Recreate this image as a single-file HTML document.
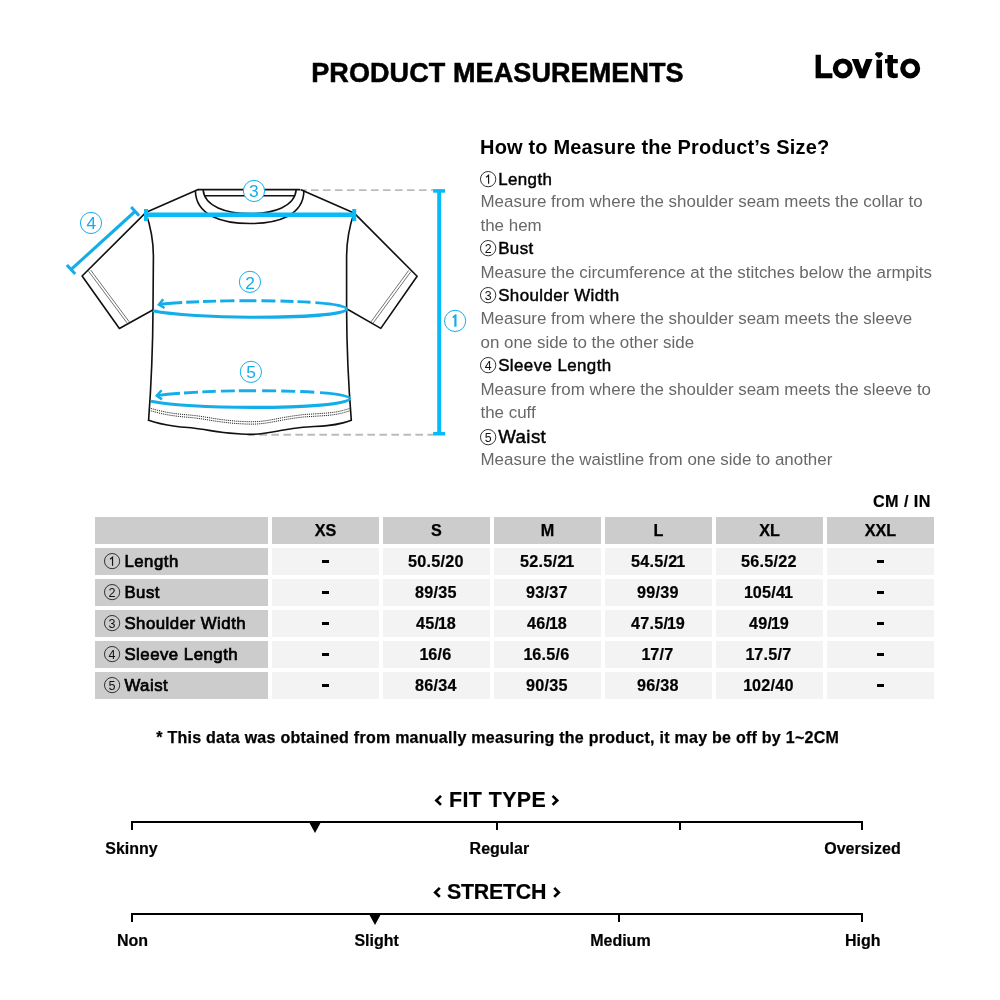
<!DOCTYPE html>
<html><head><meta charset="utf-8"><title>Product Measurements</title>
<style>
html,body{margin:0;padding:0;background:#fff;}
body{width:1000px;height:1000px;position:relative;overflow:hidden;font-family:"Liberation Sans",sans-serif;color:#000;}
.t{position:absolute;line-height:1;white-space:nowrap;}
.b{font-weight:bold;}
.g{color:#686868;}
.sb{-webkit-text-stroke:0.45px #000;}
.sb2{-webkit-text-stroke:0.7px #000;}
.cell{position:absolute;height:27px;}
.n1{margin:0 -0.5px 0 -1.2px;}
.h{background:#cccccc;}
.d{background:#f3f3f3;}
svg{position:absolute;left:0;top:0;}
#page{position:absolute;left:0;top:0;width:1000px;height:1000px;will-change:transform;}
</style></head><body><div id="page">

<div class="t b" style="top:60.02px;font-size:27px;left:311.20px;letter-spacing:0.1px;-webkit-text-stroke:0.55px #000;">PRODUCT MEASUREMENTS</div>
<svg width="1000" height="1000" viewBox="0 0 1000 1000">
<!-- logo -->
<g id="logo" fill="#000" stroke="none">
  <path d="M815.6 54.8 H820.9 V73.2 H832.4 V78.2 H815.6 Z"/>
  <path d="M851.8 59 H858.4 L862.2 69.6 L866 59 H872.6 L865 78.2 H859.4 Z"/>
  <path d="M876.4 59.8 H882 V78.2 H876.4 Z"/>
  <path d="M876.3 52.3 H881.7 L883.2 54.2 L879 58.4 L874.8 54.2 Z"/>
  <path d="M887.5 55 H893 V59 H897.8 V63.2 H893 V71 Q893 73.6 895.6 73.6 Q896.8 73.6 897.8 73.2 V77.6 Q896.2 78.3 894 78.3 Q887.5 78.3 887.5 71.8 V63.2 H885 V59 H887.5 Z"/>
  <circle cx="842.8" cy="68.4" r="7.4" fill="none" stroke="#000" stroke-width="5.2"/>
  <circle cx="910.2" cy="68.4" r="7.4" fill="none" stroke="#000" stroke-width="5.2"/>
</g>
<!-- gray dashed guide lines -->
<g stroke="#bcbcbc" stroke-width="1.9" stroke-dasharray="7.6 4.4" fill="none">
  <path d="M299 190.1 H433"/>
  <path d="M247.4 434.7 H433"/>
</g>
<!-- t-shirt -->
<g fill="none" stroke="#111" stroke-width="1.62" stroke-linejoin="round" stroke-linecap="round">
  <!-- shoulders -->
  <path d="M198.2 189.6 L145.7 212.6"/>
  <path d="M301.5 189.9 L354 212.9"/>
  <!-- collar top lines -->
  <path d="M198.2 189.6 H299.5"/>
  <path d="M204.9 195.7 H294.1"/>
  <!-- collar outer/inner curves -->
  <path d="M195.4 191 C 196 215.5, 222 223.5, 250 223.5 C 278 223.5, 303.4 215.5, 303.9 191"/>
  <path d="M203.1 189.8 C 204.5 206.5, 226 213.5, 250 213.5 C 274 213.5, 294.8 206.5, 296.2 189.8"/>
  <!-- left sleeve -->
  <path d="M145.7 212.6 L82.1 276 L119.4 328.5 L153.2 309.8"/>
  <!-- right sleeve -->
  <path d="M354 212.9 L417.1 276.3 L380.8 328.4 L346.6 308.8"/>
  <!-- body sides -->
  <path d="M145.7 212.6 C 150.5 226, 153.3 240, 153.4 256 L153 309.8 Q 152.7 365, 148.6 420.2"/>
  <path d="M354 212.9 C 349.5 226, 346.7 240, 346.6 256 L346.6 308.8 Q 346.8 365, 351.3 420.2"/>
  <!-- hem -->
  <path d="M148.6 420.3 C 156 423, 166 425, 175 426.2 C 182 427.1, 188 427.5, 193 428 C 202 429, 210 430.6, 217 431.6 C 226 432.9, 234 433.7, 241 434 C 246 434.3, 250 434.4, 254 434.3 C 264 434, 273 432, 282 430.3 C 290 428.9, 296 428, 303 427.2 C 311 426.6, 320 426.2, 327 425.6 C 334 425, 339 424, 343 422.9 C 346.5 422, 349.5 421, 351.3 420.2"/>
</g>
<!-- stitches -->
<g fill="none" stroke="#333" stroke-width="0.7">
  <path d="M88.5 271.2 L127 322.9"/>
  <path d="M90.7 270.1 L129.2 321.8"/>
  <path d="M410.9 271.6 L372.9 323.4"/>
  <path d="M408.7 270.4 L370.7 322.2"/>
</g>
<clipPath id="hemclip"><rect x="150.3" y="400" width="199.4" height="40"/></clipPath>
<g fill="none" stroke="#000" stroke-width="0.9" stroke-dasharray="1.1 1" clip-path="url(#hemclip)">
  <path transform="translate(0.4,-12.6)" d="M148.6 420.3 C 156 423, 166 425, 175 426.2 C 182 427.1, 188 427.5, 193 428 C 202 429, 210 430.6, 217 431.6 C 226 432.9, 234 433.7, 241 434 C 246 434.3, 250 434.4, 254 434.3 C 264 434, 273 432, 282 430.3 C 290 428.9, 296 428, 303 427.2 C 311 426.6, 320 426.2, 327 425.6 C 334 425, 339 424, 343 422.9 C 346.5 422, 349.5 421, 351.3 420.2"/>
  <path transform="translate(0.4,-10.2)" d="M148.6 420.3 C 156 423, 166 425, 175 426.2 C 182 427.1, 188 427.5, 193 428 C 202 429, 210 430.6, 217 431.6 C 226 432.9, 234 433.7, 241 434 C 246 434.3, 250 434.4, 254 434.3 C 264 434, 273 432, 282 430.3 C 290 428.9, 296 428, 303 427.2 C 311 426.6, 320 426.2, 327 425.6 C 334 425, 339 424, 343 422.9 C 346.5 422, 349.5 421, 351.3 420.2"/>
</g>
<!-- blue measurement art -->
<g fill="none" stroke="#06bcf8" stroke-linecap="butt">
  <!-- 1 vertical -->
  <path d="M439.2 190.5 V434" stroke-width="4"/>
  <path d="M433.1 190.9 H445.1" stroke-width="3.6"/>
  <path d="M433.1 433.7 H445.1" stroke-width="3.6"/>
  <!-- 3 shoulder -->
  <path d="M146 214.8 H354" stroke-width="4.5"/>
  <path d="M146 209 V221" stroke-width="4"/>
  <path d="M354.2 209 V221" stroke-width="4"/>
  <!-- 4 sleeve -->
  <path d="M135.2 211.25 L71.2 269.4" stroke-width="3.1" stroke="#14adea"/>
  <path d="M131.2 206.9 L139.1 215.7" stroke-width="3" stroke="#14adea"/>
  <path d="M66.9 264.9 L75.2 274.1" stroke-width="3" stroke="#14adea"/>
  <!-- 2 bust -->
  <path d="M152.8 310.8 C 172 314.8, 215 317.3, 250 317.3 C 303 317.3, 346.6 314.4, 346.6 308.9" stroke-width="3.1" stroke="#14adea"/>
  <path d="M158.8 304.6 C 172 302.4, 215 300.7, 250 300.7 C 303 300.7, 346.6 303.6, 346.6 308.9" stroke-width="2.9" stroke-dasharray="23.6 4 13 4 13 4 14 5 17 5 14 5 13 4 13 5 80 0" stroke="#14adea"/>
  <path d="M163.2 299.3 L158.9 304.7 L164.5 308" stroke-width="2.5" stroke-linejoin="miter" stroke="#14adea"/>
  <!-- 5 waist -->
  <path d="M151 401.3 C 172 405.2, 215 407.4, 253 407.4 C 305 407.4, 349.7 404.2, 349.7 398.5" stroke-width="3.1" stroke="#14adea"/>
  <path d="M156.6 395.6 C 180 392.6, 215 390.7, 253 390.7 C 305 390.7, 349.7 393.4, 349.7 398.5" stroke-width="2.9" stroke-dasharray="23.6 4 14 4.4 13.6 5 14 4 17 6 14 5 14 5 14 6 80 0" stroke="#14adea"/>
  <path d="M161.6 390.3 L156.8 395.8 L162 399.4" stroke-width="2.5" stroke-linejoin="miter" stroke="#14adea"/>
</g>
<!-- numbered circles -->
<g fill="#fff" stroke="#14adea" stroke-width="1">
  <circle cx="455.1" cy="320.9" r="10.6"/>
  <circle cx="249.95" cy="281.85" r="10.6"/>
  <circle cx="254" cy="190.95" r="10.6"/>
  <circle cx="91" cy="222.95" r="10.6"/>
  <circle cx="250.9" cy="371.85" r="10.6"/>
</g>
<g fill="#14adea" font-family="Liberation Sans, sans-serif" font-size="17.4" text-anchor="middle">
  <path d="M452.2 317 L455.4 314.3 H456.5 V326.8 H454.3 V317.3 L453.3 318.2 Z"/>
  <text x="250.1" y="288.8">2</text>
  <text x="253.9" y="196.9">3</text>
  <text x="91.3" y="228.9">4</text>
  <text x="251.1" y="378.1">5</text>
</g>
</svg>

<div class="t b" style="top:137.01px;font-size:20px;left:480.10px;letter-spacing:0.16px;">How to Measure the Product&rsquo;s Size?</div>
<div class="t" style="left:480.4px;top:170.60px;"><svg style="position:static;display:block;overflow:visible" width="16.3" height="16.3" viewBox="0 0 16.3 16.3"><circle cx="8.15" cy="8.15" r="7.68" fill="none" stroke="#2a2a2a" stroke-width="0.95"/><path d="M6.15 6.25 L8.60 4.25 V12.75" fill="none" stroke="#111" stroke-width="1.15" stroke-linejoin="miter"/></svg></div><div class="t sb" style="top:172.01px;font-size:16.93px;left:498.20px;letter-spacing:0.4px;">Length</div>
<div class="t g" style="top:194.01px;font-size:16.93px;left:480.50px;">Measure from where the shoulder seam meets the collar to</div>
<div class="t g" style="top:218.00px;font-size:16.93px;left:480.50px;">the hem</div>
<div class="t" style="left:480.4px;top:239.60px;"><svg style="position:static;display:block;overflow:visible" width="16.3" height="16.3" viewBox="0 0 16.3 16.3"><circle cx="8.15" cy="8.15" r="7.68" fill="none" stroke="#2a2a2a" stroke-width="0.95"/><text x="8.15" y="12.75" text-anchor="middle" font-family="Liberation Sans, sans-serif" font-size="12.4" fill="#111">2</text></svg></div><div class="t sb" style="top:241.01px;font-size:16.93px;left:498.20px;letter-spacing:0.4px;">Bust</div>
<div class="t g" style="top:265.00px;font-size:16.93px;left:480.50px;">Measure the circumference at the stitches below the armpits</div>
<div class="t" style="left:480.4px;top:286.60px;"><svg style="position:static;display:block;overflow:visible" width="16.3" height="16.3" viewBox="0 0 16.3 16.3"><circle cx="8.15" cy="8.15" r="7.68" fill="none" stroke="#2a2a2a" stroke-width="0.95"/><text x="8.15" y="12.75" text-anchor="middle" font-family="Liberation Sans, sans-serif" font-size="12.4" fill="#111">3</text></svg></div><div class="t sb" style="top:288.00px;font-size:16.93px;left:498.20px;letter-spacing:0.4px;">Shoulder Width</div>
<div class="t g" style="top:311.01px;font-size:16.93px;left:480.50px;">Measure from where the shoulder seam meets the sleeve</div>
<div class="t g" style="top:335.01px;font-size:16.93px;left:480.50px;">on one side to the other side</div>
<div class="t" style="left:480.4px;top:356.60px;"><svg style="position:static;display:block;overflow:visible" width="16.3" height="16.3" viewBox="0 0 16.3 16.3"><circle cx="8.15" cy="8.15" r="7.68" fill="none" stroke="#2a2a2a" stroke-width="0.95"/><text x="8.15" y="12.75" text-anchor="middle" font-family="Liberation Sans, sans-serif" font-size="12.4" fill="#111">4</text></svg></div><div class="t sb" style="top:358.01px;font-size:16.93px;left:498.20px;letter-spacing:0.4px;">Sleeve Length</div>
<div class="t g" style="top:382.01px;font-size:16.93px;left:480.50px;">Measure from where the shoulder seam meets the sleeve to</div>
<div class="t g" style="top:405.00px;font-size:16.93px;left:480.50px;">the cuff</div>
<div class="t" style="left:480.4px;top:428.60px;"><svg style="position:static;display:block;overflow:visible" width="16.3" height="16.3" viewBox="0 0 16.3 16.3"><circle cx="8.15" cy="8.15" r="7.68" fill="none" stroke="#2a2a2a" stroke-width="0.95"/><text x="8.15" y="12.75" text-anchor="middle" font-family="Liberation Sans, sans-serif" font-size="12.4" fill="#111">5</text></svg></div><div class="t sb" style="top:428.01px;font-size:18.7px;left:498.20px;letter-spacing:0.4px;">Waist</div>
<div class="t g" style="top:452.01px;font-size:16.93px;left:480.50px;">Measure the waistline from one side to another</div>
<div class="t b" style="top:493.01px;font-size:16.2px;left:530.90px;width:400px;text-align:right;letter-spacing:0.45px;-webkit-text-stroke:0.2px #000;">CM / IN</div>
<div class="cell h" style="left:95px;top:517px;width:173px;"></div>
<div class="cell h" style="left:272px;top:517px;width:107px;"></div>
<div class="cell h" style="left:383px;top:517px;width:107px;"></div>
<div class="cell h" style="left:494px;top:517px;width:107px;"></div>
<div class="cell h" style="left:605px;top:517px;width:107px;"></div>
<div class="cell h" style="left:716px;top:517px;width:107px;"></div>
<div class="cell h" style="left:827px;top:517px;width:107px;"></div>
<div class="cell h" style="left:95px;top:548px;width:173px;"></div>
<div class="cell d" style="left:272px;top:548px;width:107px;"></div>
<div class="cell d" style="left:383px;top:548px;width:107px;"></div>
<div class="cell d" style="left:494px;top:548px;width:107px;"></div>
<div class="cell d" style="left:605px;top:548px;width:107px;"></div>
<div class="cell d" style="left:716px;top:548px;width:107px;"></div>
<div class="cell d" style="left:827px;top:548px;width:107px;"></div>
<div class="cell h" style="left:95px;top:579px;width:173px;"></div>
<div class="cell d" style="left:272px;top:579px;width:107px;"></div>
<div class="cell d" style="left:383px;top:579px;width:107px;"></div>
<div class="cell d" style="left:494px;top:579px;width:107px;"></div>
<div class="cell d" style="left:605px;top:579px;width:107px;"></div>
<div class="cell d" style="left:716px;top:579px;width:107px;"></div>
<div class="cell d" style="left:827px;top:579px;width:107px;"></div>
<div class="cell h" style="left:95px;top:610px;width:173px;"></div>
<div class="cell d" style="left:272px;top:610px;width:107px;"></div>
<div class="cell d" style="left:383px;top:610px;width:107px;"></div>
<div class="cell d" style="left:494px;top:610px;width:107px;"></div>
<div class="cell d" style="left:605px;top:610px;width:107px;"></div>
<div class="cell d" style="left:716px;top:610px;width:107px;"></div>
<div class="cell d" style="left:827px;top:610px;width:107px;"></div>
<div class="cell h" style="left:95px;top:641px;width:173px;"></div>
<div class="cell d" style="left:272px;top:641px;width:107px;"></div>
<div class="cell d" style="left:383px;top:641px;width:107px;"></div>
<div class="cell d" style="left:494px;top:641px;width:107px;"></div>
<div class="cell d" style="left:605px;top:641px;width:107px;"></div>
<div class="cell d" style="left:716px;top:641px;width:107px;"></div>
<div class="cell d" style="left:827px;top:641px;width:107px;"></div>
<div class="cell h" style="left:95px;top:672px;width:173px;"></div>
<div class="cell d" style="left:272px;top:672px;width:107px;"></div>
<div class="cell d" style="left:383px;top:672px;width:107px;"></div>
<div class="cell d" style="left:494px;top:672px;width:107px;"></div>
<div class="cell d" style="left:605px;top:672px;width:107px;"></div>
<div class="cell d" style="left:716px;top:672px;width:107px;"></div>
<div class="cell d" style="left:827px;top:672px;width:107px;"></div>
<div class="t b" style="top:522.00px;font-size:16.2px;left:125.50px;width:400px;text-align:center;-webkit-text-stroke:0.25px #000;">XS</div>
<div class="t b" style="top:522.00px;font-size:16.2px;left:236.50px;width:400px;text-align:center;-webkit-text-stroke:0.25px #000;">S</div>
<div class="t b" style="top:522.00px;font-size:16.2px;left:347.50px;width:400px;text-align:center;-webkit-text-stroke:0.25px #000;">M</div>
<div class="t b" style="top:522.00px;font-size:16.2px;left:458.50px;width:400px;text-align:center;-webkit-text-stroke:0.25px #000;">L</div>
<div class="t b" style="top:522.00px;font-size:16.2px;left:569.50px;width:400px;text-align:center;-webkit-text-stroke:0.25px #000;">XL</div>
<div class="t b" style="top:522.00px;font-size:16.2px;left:680.50px;width:400px;text-align:center;-webkit-text-stroke:0.25px #000;">XXL</div>
<div class="t" style="left:103.8px;top:552.50px;"><svg style="position:static;display:block;overflow:visible" width="16.2" height="16.2" viewBox="0 0 16.2 16.2"><circle cx="8.10" cy="8.10" r="7.62" fill="none" stroke="#2a2a2a" stroke-width="0.95"/><path d="M6.10 6.20 L8.55 4.20 V12.70" fill="none" stroke="#111" stroke-width="1.15" stroke-linejoin="miter"/></svg></div>
<div class="t sb2" style="top:554.01px;font-size:16.8px;left:124.40px;letter-spacing:0.5px;">Length</div>
<div style="position:absolute;left:322.3px;top:560.3px;width:6.4px;height:2.4px;background:#000;"></div>
<div class="t b" style="top:553.00px;font-size:16.2px;left:236.00px;width:400px;text-align:center;letter-spacing:0.25px;-webkit-text-stroke:0.2px #000;">50.5/20</div>
<div class="t b" style="top:553.00px;font-size:16.2px;left:347.00px;width:400px;text-align:center;letter-spacing:0.25px;-webkit-text-stroke:0.2px #000;">52.5/2<span class="n1">1</span></div>
<div class="t b" style="top:553.00px;font-size:16.2px;left:458.00px;width:400px;text-align:center;letter-spacing:0.25px;-webkit-text-stroke:0.2px #000;">54.5/2<span class="n1">1</span></div>
<div class="t b" style="top:553.00px;font-size:16.2px;left:569.00px;width:400px;text-align:center;letter-spacing:0.25px;-webkit-text-stroke:0.2px #000;">56.5/22</div>
<div style="position:absolute;left:877.3px;top:560.3px;width:6.4px;height:2.4px;background:#000;"></div>
<div class="t" style="left:103.8px;top:583.50px;"><svg style="position:static;display:block;overflow:visible" width="16.2" height="16.2" viewBox="0 0 16.2 16.2"><circle cx="8.10" cy="8.10" r="7.62" fill="none" stroke="#2a2a2a" stroke-width="0.95"/><text x="8.10" y="12.70" text-anchor="middle" font-family="Liberation Sans, sans-serif" font-size="12.6" fill="#111">2</text></svg></div>
<div class="t sb2" style="top:585.01px;font-size:16.8px;left:124.40px;letter-spacing:0.5px;">Bust</div>
<div style="position:absolute;left:322.3px;top:591.3px;width:6.4px;height:2.4px;background:#000;"></div>
<div class="t b" style="top:584.00px;font-size:16.2px;left:236.00px;width:400px;text-align:center;letter-spacing:0.25px;-webkit-text-stroke:0.2px #000;">89/35</div>
<div class="t b" style="top:584.00px;font-size:16.2px;left:347.00px;width:400px;text-align:center;letter-spacing:0.25px;-webkit-text-stroke:0.2px #000;">93/37</div>
<div class="t b" style="top:584.00px;font-size:16.2px;left:458.00px;width:400px;text-align:center;letter-spacing:0.25px;-webkit-text-stroke:0.2px #000;">99/39</div>
<div class="t b" style="top:584.00px;font-size:16.2px;left:569.00px;width:400px;text-align:center;letter-spacing:0.25px;-webkit-text-stroke:0.2px #000;"><span class="n1">1</span>05/4<span class="n1">1</span></div>
<div style="position:absolute;left:877.3px;top:591.3px;width:6.4px;height:2.4px;background:#000;"></div>
<div class="t" style="left:103.8px;top:614.50px;"><svg style="position:static;display:block;overflow:visible" width="16.2" height="16.2" viewBox="0 0 16.2 16.2"><circle cx="8.10" cy="8.10" r="7.62" fill="none" stroke="#2a2a2a" stroke-width="0.95"/><text x="8.10" y="12.70" text-anchor="middle" font-family="Liberation Sans, sans-serif" font-size="12.6" fill="#111">3</text></svg></div>
<div class="t sb2" style="top:616.01px;font-size:16.8px;left:124.40px;letter-spacing:0.5px;">Shoulder Width</div>
<div style="position:absolute;left:322.3px;top:622.3px;width:6.4px;height:2.4px;background:#000;"></div>
<div class="t b" style="top:615.00px;font-size:16.2px;left:236.00px;width:400px;text-align:center;letter-spacing:0.25px;-webkit-text-stroke:0.2px #000;">45/<span class="n1">1</span>8</div>
<div class="t b" style="top:615.00px;font-size:16.2px;left:347.00px;width:400px;text-align:center;letter-spacing:0.25px;-webkit-text-stroke:0.2px #000;">46/<span class="n1">1</span>8</div>
<div class="t b" style="top:615.00px;font-size:16.2px;left:458.00px;width:400px;text-align:center;letter-spacing:0.25px;-webkit-text-stroke:0.2px #000;">47.5/<span class="n1">1</span>9</div>
<div class="t b" style="top:615.00px;font-size:16.2px;left:569.00px;width:400px;text-align:center;letter-spacing:0.25px;-webkit-text-stroke:0.2px #000;">49/<span class="n1">1</span>9</div>
<div style="position:absolute;left:877.3px;top:622.3px;width:6.4px;height:2.4px;background:#000;"></div>
<div class="t" style="left:103.8px;top:645.50px;"><svg style="position:static;display:block;overflow:visible" width="16.2" height="16.2" viewBox="0 0 16.2 16.2"><circle cx="8.10" cy="8.10" r="7.62" fill="none" stroke="#2a2a2a" stroke-width="0.95"/><text x="8.10" y="12.70" text-anchor="middle" font-family="Liberation Sans, sans-serif" font-size="12.6" fill="#111">4</text></svg></div>
<div class="t sb2" style="top:647.01px;font-size:16.8px;left:124.40px;letter-spacing:0.5px;">Sleeve Length</div>
<div style="position:absolute;left:322.3px;top:653.3px;width:6.4px;height:2.4px;background:#000;"></div>
<div class="t b" style="top:646.00px;font-size:16.2px;left:236.00px;width:400px;text-align:center;letter-spacing:0.25px;-webkit-text-stroke:0.2px #000;"><span class="n1">1</span>6/6</div>
<div class="t b" style="top:646.00px;font-size:16.2px;left:347.00px;width:400px;text-align:center;letter-spacing:0.25px;-webkit-text-stroke:0.2px #000;"><span class="n1">1</span>6.5/6</div>
<div class="t b" style="top:646.00px;font-size:16.2px;left:458.00px;width:400px;text-align:center;letter-spacing:0.25px;-webkit-text-stroke:0.2px #000;"><span class="n1">1</span>7/7</div>
<div class="t b" style="top:646.00px;font-size:16.2px;left:569.00px;width:400px;text-align:center;letter-spacing:0.25px;-webkit-text-stroke:0.2px #000;"><span class="n1">1</span>7.5/7</div>
<div style="position:absolute;left:877.3px;top:653.3px;width:6.4px;height:2.4px;background:#000;"></div>
<div class="t" style="left:103.8px;top:676.50px;"><svg style="position:static;display:block;overflow:visible" width="16.2" height="16.2" viewBox="0 0 16.2 16.2"><circle cx="8.10" cy="8.10" r="7.62" fill="none" stroke="#2a2a2a" stroke-width="0.95"/><text x="8.10" y="12.70" text-anchor="middle" font-family="Liberation Sans, sans-serif" font-size="12.6" fill="#111">5</text></svg></div>
<div class="t sb2" style="top:678.01px;font-size:16.8px;left:124.40px;letter-spacing:0.5px;">Waist</div>
<div style="position:absolute;left:322.3px;top:684.3px;width:6.4px;height:2.4px;background:#000;"></div>
<div class="t b" style="top:677.00px;font-size:16.2px;left:236.00px;width:400px;text-align:center;letter-spacing:0.25px;-webkit-text-stroke:0.2px #000;">86/34</div>
<div class="t b" style="top:677.00px;font-size:16.2px;left:347.00px;width:400px;text-align:center;letter-spacing:0.25px;-webkit-text-stroke:0.2px #000;">90/35</div>
<div class="t b" style="top:677.00px;font-size:16.2px;left:458.00px;width:400px;text-align:center;letter-spacing:0.25px;-webkit-text-stroke:0.2px #000;">96/38</div>
<div class="t b" style="top:677.00px;font-size:16.2px;left:569.00px;width:400px;text-align:center;letter-spacing:0.25px;-webkit-text-stroke:0.2px #000;"><span class="n1">1</span>02/40</div>
<div style="position:absolute;left:877.3px;top:684.3px;width:6.4px;height:2.4px;background:#000;"></div>
<div class="t b" style="top:730.00px;font-size:16px;left:156.20px;letter-spacing:0.26px;-webkit-text-stroke:0.25px #000;">* This data was obtained from manually measuring the product, it may be off by 1~2CM</div>
<div style="position:absolute;left:131.2px;top:820.8px;width:732.1px;height:2.2px;background:#000;"></div><div style="position:absolute;left:131.20px;top:820.8px;width:1.9px;height:9.4px;background:#000;"></div><div style="position:absolute;left:496.30px;top:820.8px;width:1.9px;height:9.4px;background:#000;"></div><div style="position:absolute;left:678.90px;top:820.8px;width:1.9px;height:9.4px;background:#000;"></div><div style="position:absolute;left:861.30px;top:820.8px;width:1.9px;height:9.4px;background:#000;"></div><div style="position:absolute;left:309.00px;top:822.00px;width:0;height:0;border-left:6.6px solid transparent;border-right:6.6px solid transparent;border-top:11.5px solid #000;"></div><div class="t b" style="top:790.01px;font-size:21.4px;left:297.60px;width:400px;text-align:center;letter-spacing:0.4px;-webkit-text-stroke:0.2px #000;">FIT TYPE</div><svg width="1000" height="1000" viewBox="0 0 1000 1000"><g fill="none" stroke="#000" stroke-width="2.7" stroke-linejoin="miter"><path d="M441.0 795.9 L436.4 800.4 L441.0 804.9"/><path d="M552.6 795.9 L557.2 800.4 L552.6 804.9"/></g></svg><div class="t b" style="top:841.00px;font-size:16px;left:-68.50px;width:400px;text-align:center;-webkit-text-stroke:0.2px #000;">Skinny</div><div class="t b" style="top:841.00px;font-size:16px;left:299.40px;width:400px;text-align:center;-webkit-text-stroke:0.2px #000;">Regular</div><div class="t b" style="top:841.00px;font-size:16px;left:662.50px;width:400px;text-align:center;-webkit-text-stroke:0.2px #000;">Oversized</div>
<div style="position:absolute;left:131.2px;top:912.8px;width:732.1px;height:2.2px;background:#000;"></div><div style="position:absolute;left:131.20px;top:912.8px;width:1.9px;height:9.4px;background:#000;"></div><div style="position:absolute;left:618.00px;top:912.8px;width:1.9px;height:9.4px;background:#000;"></div><div style="position:absolute;left:861.30px;top:912.8px;width:1.9px;height:9.4px;background:#000;"></div><div style="position:absolute;left:369.40px;top:914.00px;width:0;height:0;border-left:6.6px solid transparent;border-right:6.6px solid transparent;border-top:11.5px solid #000;"></div><div class="t b" style="top:882.01px;font-size:21.4px;left:296.60px;width:400px;text-align:center;letter-spacing:-0.25px;-webkit-text-stroke:0.2px #000;">STRETCH</div><svg width="1000" height="1000" viewBox="0 0 1000 1000"><g fill="none" stroke="#000" stroke-width="2.7" stroke-linejoin="miter"><path d="M439.8 887.9 L435.2 892.4 L439.8 896.9"/><path d="M554.2 887.9 L558.8 892.4 L554.2 896.9"/></g></svg><div class="t b" style="top:933.01px;font-size:16px;left:-67.50px;width:400px;text-align:center;-webkit-text-stroke:0.2px #000;">Non</div><div class="t b" style="top:933.01px;font-size:16px;left:176.60px;width:400px;text-align:center;-webkit-text-stroke:0.2px #000;">Slight</div><div class="t b" style="top:933.01px;font-size:16px;left:420.40px;width:400px;text-align:center;-webkit-text-stroke:0.2px #000;">Medium</div><div class="t b" style="top:933.01px;font-size:16px;left:662.80px;width:400px;text-align:center;-webkit-text-stroke:0.2px #000;">High</div>
</div></body></html>
